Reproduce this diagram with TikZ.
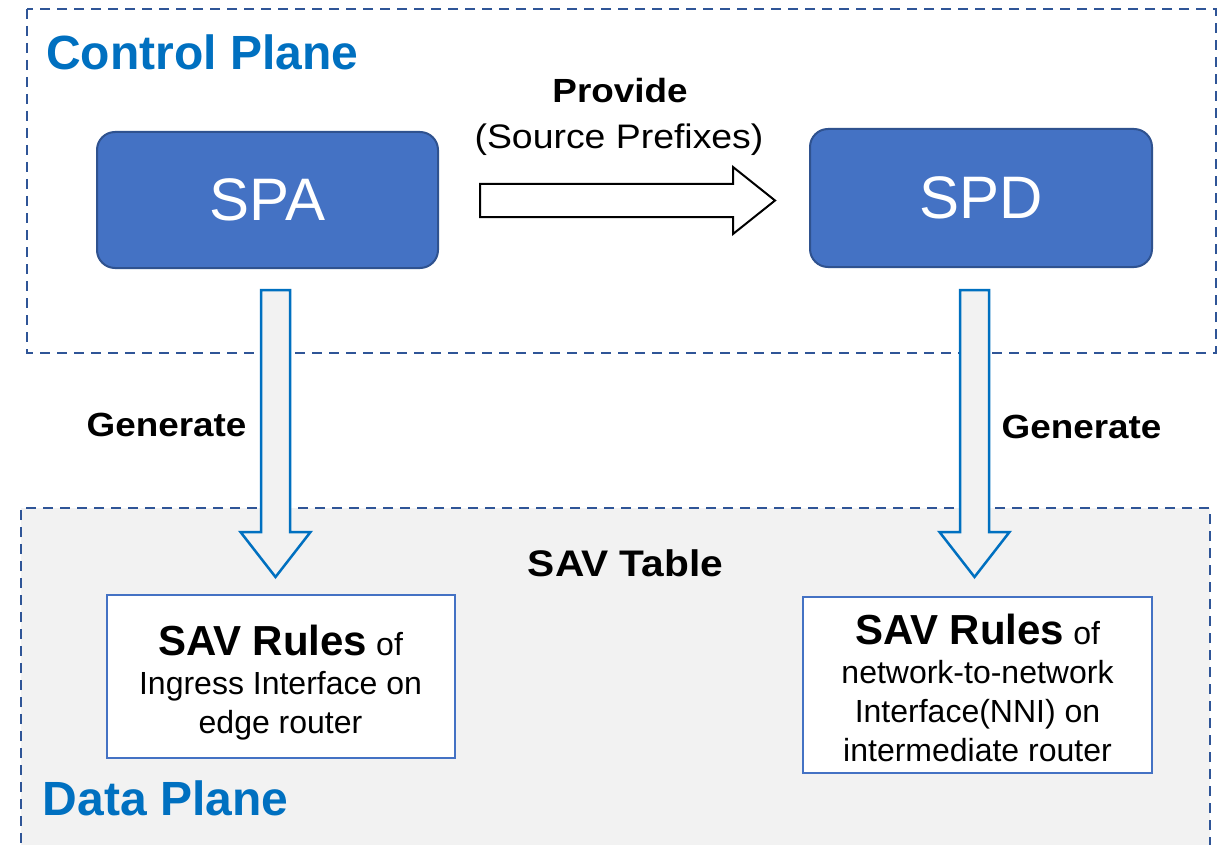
\documentclass[tikz,border=0pt]{standalone}
\usepackage{fontspec}
\setmainfont{Liberation Sans}
\newfontfamily\widefont[FakeStretch=1.1]{Liberation Sans}
\usetikzlibrary{calc}

\definecolor{titleblue}{HTML}{0070C0}
\definecolor{procfill}{HTML}{4472C4}
\definecolor{procedge}{HTML}{2F528F}
\definecolor{frameblue}{HTML}{2F5597}
\definecolor{panelgray}{HTML}{F2F2F2}

\newcommand{\fsz}[2]{\fontsize{#1}{#2}\selectfont}

\tikzset{
  planeframe/.style={draw=frameblue, line width=2pt, dash pattern=on 10pt off 7pt},
  procbox/.style={draw=procedge, fill=procfill, line width=2pt, rounded corners=18pt,
    text=white, font=\fsz{60}{72}, inner sep=0pt},
  rulebox/.style={draw=procfill, fill=white, line width=2pt, inner sep=0pt},
  ruletext/.style={align=center, inner sep=0pt, font=\fsz{32}{39}},
  planetitle/.style={text=titleblue, font=\fsz{48}{56}\bfseries, inner sep=0pt, anchor=base west},
  labeltext/.style={font=\widefont\fsz{33.5}{40}\bfseries, inner sep=0pt, anchor=base},
  flowarrow/.style={draw=black, fill=white, line width=2pt, line join=miter},
  genarrow/.style={draw=titleblue, fill=panelgray, line width=2.5pt, line join=miter},
}

% horizontal block arrow from #1 (tail centre) to #2 (tip)
\newcommand{\rightblock}[2]{%
  \draw[flowarrow] ($(#1)+(0,-16.5)$) -- ($(#2)+(-42,-16.5)$) -- ($(#2)+(-42,-33.5)$)
    -- (#2) -- ($(#2)+(-42,33.5)$) -- ($(#2)+(-42,16.5)$) -- ($(#1)+(0,16.5)$) -- cycle;}
% downward block arrow from #1 (tail centre) to #2 (tip)
\newcommand{\downblock}[2]{%
  \draw[genarrow] ($(#1)+(-14.5,0)$) -- ($(#2)+(-14.5,-45)$) -- ($(#2)+(-35,-45)$)
    -- (#2) -- ($(#2)+(35,-45)$) -- ($(#2)+(14.5,-45)$) -- ($(#1)+(14.5,0)$) -- cycle;}

\begin{document}
\begin{tikzpicture}[x=1pt, y=-1pt]
  \useasboundingbox (0,0) rectangle (1228,845);
  \fill[white] (0,0) rectangle (1228,845);
  \clip (0,0) rectangle (1228,845);

  % data plane panel (runs off the bottom edge)
  \fill[panelgray] (21,508) rectangle (1210,860);
  \draw[planeframe] (21,860) -- (21,508) -- (1210,508) -- (1210,860);

  % control plane panel
  \draw[planeframe] (27,9) rectangle (1216,353);

  % control plane components
  \node[procbox, minimum width=341pt, minimum height=136pt] (spa) at (267.5,200) {SPA};
  \node[procbox, minimum width=342pt, minimum height=138pt] (spd) at (981,198) {SPD};

  % SAV rule boxes
  \node[rulebox, minimum width=348pt, minimum height=163pt] (rules1) at (281,676.5) {};
  \node[rulebox, minimum width=349pt, minimum height=176pt] (rules2) at (977.5,685) {};

  % arrow end points
  \coordinate (provS) at (480,200.5);
  \coordinate (provE) at (775,200.5);
  \coordinate (gen1S) at (275.5,290);
  \coordinate (gen1E) at (275.5,577);
  \coordinate (gen2S) at (974.5,290);
  \coordinate (gen2E) at (974.5,577);

  \rightblock{provS}{provE}
  \downblock{gen1S}{gen1E}
  \downblock{gen2S}{gen2E}

  % titles and labels
  \node[planetitle] (cptitle) at (46,69.5) {Control Plane};
  \node[planetitle] (dptitle) at (42.5,815) {Data Plane};
  \node[labeltext] (provide) at (620,102.3) {Provide};
  \node[labeltext, font=\widefont\fsz{34}{40}] (prefixes) at (619,149) {(Source Prefixes)};
  \node[labeltext] (gen1lbl) at (166.5,436) {Generate};
  \node[labeltext] (gen2lbl) at (1081.5,438) {Generate};
  \node[labeltext, font=\widefont\fsz{37}{44}\bfseries] (savtable) at (625.5,576) {SAV Table};

  % rule texts
  \node[ruletext] (rules1txt) at (280.5,682.8)
    {{\fsz{42}{39}\bfseries SAV Rules} of\\Ingress Interface on\\edge router};
  \node[ruletext] (rules2txt) at (977.5,687.5)
    {{\fsz{42}{39}\bfseries SAV Rules} of\\network-to-network\\Interface(NNI) on\\intermediate router};
\end{tikzpicture}
\end{document}
